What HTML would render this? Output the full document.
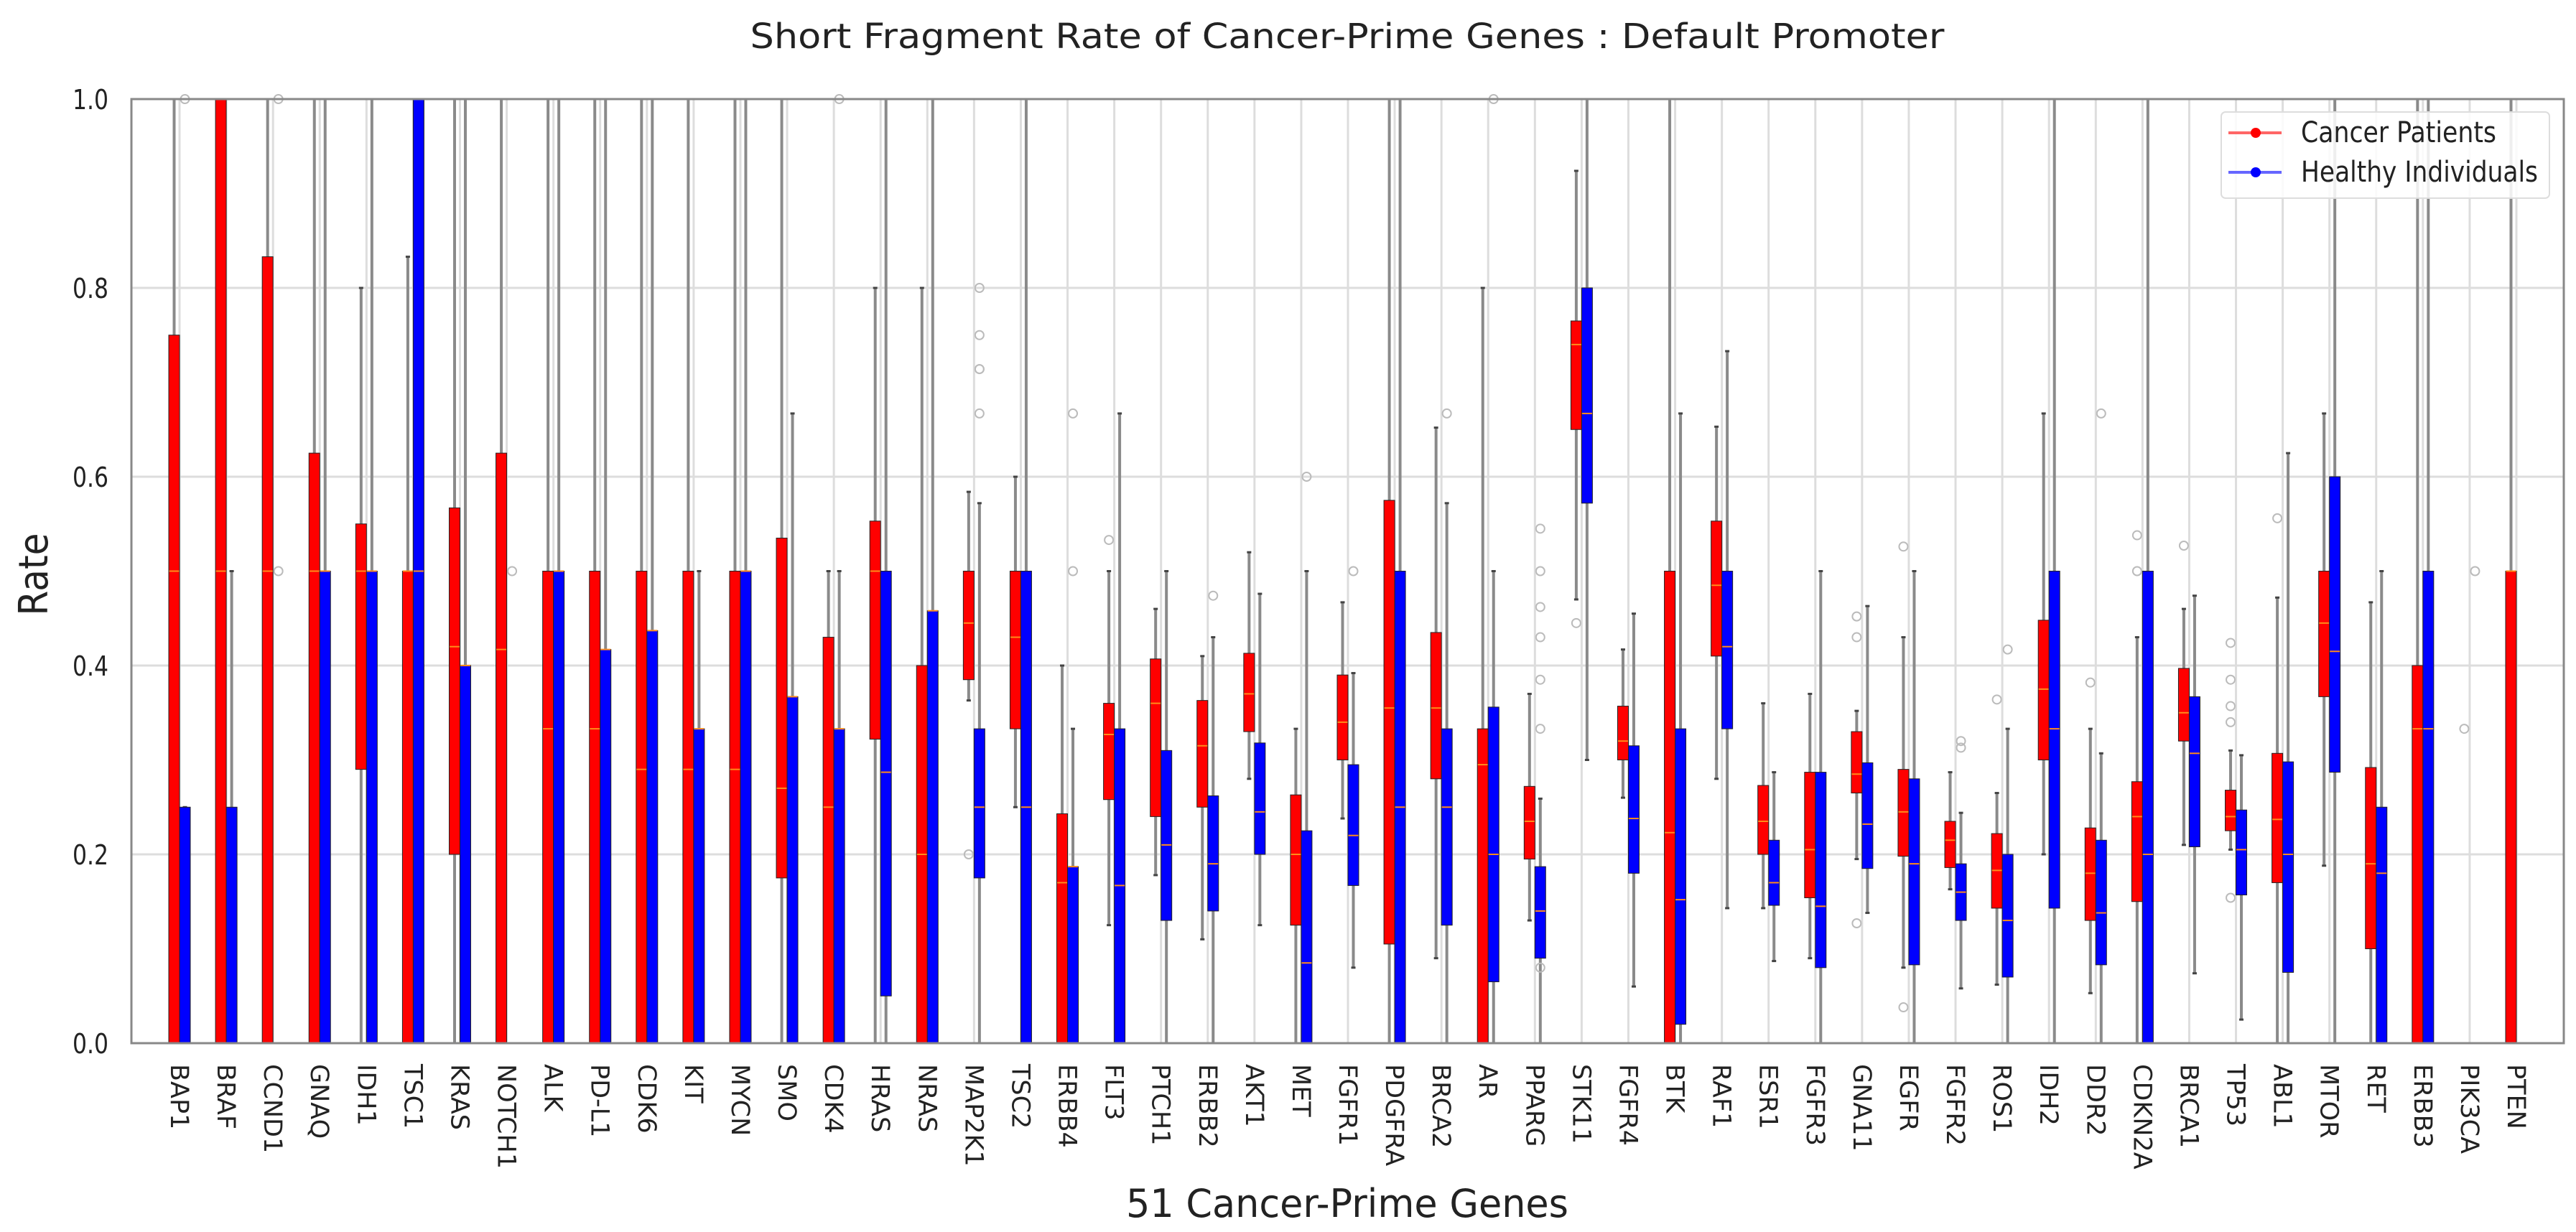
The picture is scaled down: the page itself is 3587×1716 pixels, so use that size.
<!DOCTYPE html>
<html><head><meta charset="utf-8">
<style>
html,body{margin:0;padding:0;background:#fff;}
svg{display:block;}
text{font-family:"DejaVu Sans","Liberation Sans",sans-serif;fill:#222;}
</style></head>
<body>
<svg id="chart" width="3587" height="1716" viewBox="0 0 3587 1716" xmlns="http://www.w3.org/2000/svg">
<rect x="0" y="0" width="3587" height="1716" fill="#fff"/>
<g id="grid"></g>
<g id="marks"></g>
<rect x="183" y="138" width="3387" height="1315" fill="none" stroke="#888" stroke-width="3"/>
<g id="yticks"></g>
<g id="xticks"></g>
<text x="1876" y="67" font-size="48" text-anchor="middle" textLength="1663" lengthAdjust="spacingAndGlyphs">Short Fragment Rate of Cancer-Prime Genes : Default Promoter</text>
<text transform="translate(66,800) rotate(-90)" font-size="56" text-anchor="middle" textLength="115" lengthAdjust="spacingAndGlyphs">Rate</text>
<text x="1876" y="1695" font-size="54" text-anchor="middle" textLength="616" lengthAdjust="spacingAndGlyphs">51 Cancer-Prime Genes</text>
<g>
<rect x="3093" y="156" width="457" height="120" rx="6" fill="#fff" fill-opacity="0.85" stroke="#ddd" stroke-width="2"/>
<line x1="3103" y1="185" x2="3177" y2="185" stroke="#f66" stroke-width="4"/>
<circle cx="3141" cy="185" r="7" fill="red"/>
<text x="3204" y="198" font-size="40" textLength="272" lengthAdjust="spacingAndGlyphs">Cancer Patients</text>
<line x1="3103" y1="240" x2="3177" y2="240" stroke="#66f" stroke-width="4"/>
<circle cx="3141" cy="240" r="7" fill="blue"/>
<text x="3204" y="253" font-size="40" textLength="330" lengthAdjust="spacingAndGlyphs">Healthy Individuals</text>
</g>
</svg>
<script>
const genes = ["BAP1","BRAF","CCND1","GNAQ","IDH1","TSC1","KRAS","NOTCH1","ALK","PD-L1","CDK6","KIT","MYCN","SMO","CDK4","HRAS","NRAS","MAP2K1","TSC2","ERBB4","FLT3","PTCH1","ERBB2","AKT1","MET","FGFR1","PDGFRA","BRCA2","AR","PPARG","STK11","FGFR4","BTK","RAF1","ESR1","FGFR3","GNA11","EGFR","FGFR2","ROS1","IDH2","DDR2","CDKN2A","BRCA1","TP53","ABL1","MTOR","RET","ERBB3","PIK3CA","PTEN"];
const yTicks = [0.0,0.2,0.4,0.6,0.8,1.0];
const yTickLabels = ["0.0","0.2","0.4","0.6","0.8","1.0"];
// [whiskerLow, q1, median, q3, whiskerHigh]
const cancerStats = [
[0,0,0.5,0.75,1],[0,0,0.5,1,1],[0,0,0.5,0.833,1],[0,0,0.5,0.625,1],[0,0.29,0.5,0.55,0.8],
[0,0,0.5,0.5,0.833],[0,0.2,0.42,0.567,1],[0,0,0.417,0.625,1],[0,0,0.333,0.5,1],[0,0,0.333,0.5,1],
[0,0,0.29,0.5,1],[0,0,0.29,0.5,1],[0,0,0.29,0.5,1],[0,0.175,0.27,0.535,1],[0,0,0.25,0.43,0.5],
[0,0.322,0.5,0.553,0.8],[0,0,0.2,0.4,0.8],[0.363,0.385,0.445,0.5,0.584],[0.25,0.333,0.43,0.5,0.6],[0,0,0.17,0.243,0.4],
[0.125,0.258,0.327,0.36,0.5],[0.178,0.24,0.36,0.407,0.46],[0.11,0.25,0.315,0.363,0.41],[0.28,0.33,0.37,0.413,0.52],[0,0.125,0.2,0.263,0.333],
[0.238,0.3,0.34,0.39,0.467],[0,0.105,0.355,0.575,1],[0.09,0.28,0.355,0.435,0.652],[0,0,0.295,0.333,0.8],[0.13,0.195,0.235,0.272,0.37],
[0.47,0.65,0.74,0.765,0.924],[0.26,0.3,0.32,0.357,0.417],[0,0,0.223,0.5,1],[0.28,0.41,0.485,0.553,0.653],[0.143,0.2,0.235,0.273,0.36],
[0.09,0.154,0.205,0.287,0.37],[0.195,0.265,0.285,0.33,0.352],[0.08,0.198,0.245,0.29,0.43],[0.163,0.186,0.215,0.235,0.287],[0.062,0.143,0.183,0.222,0.265],
[0.2,0.3,0.375,0.448,0.667],[0.053,0.13,0.18,0.228,0.333],[0,0.15,0.24,0.277,0.43],[0.21,0.32,0.35,0.397,0.46],[0.205,0.225,0.24,0.268,0.31],
[0,0.17,0.237,0.307,0.472],[0.188,0.367,0.445,0.5,0.667],[0,0.1,0.19,0.292,0.467],[0,0,0.333,0.4,1],[0,0,0,0,0],
[0,0,0.5,0.5,1]];
const healthyStats = [
[0,0,0,0.25,0.25],[0,0,0,0.25,0.5],[0,0,0,0,0],[0,0,0.5,0.5,1],[0,0,0.5,0.5,1],
[0,0,0.5,1,1],[0,0,0.4,0.4,1],[0,0,0,0,0],[0,0,0.5,0.5,1],[0,0,0.417,0.417,1],
[0,0,0.437,0.437,1],[0,0,0.333,0.333,0.5],[0,0,0.5,0.5,1],[0,0,0.367,0.367,0.667],[0,0,0.333,0.333,0.5],
[0,0.05,0.287,0.5,1],[0,0,0.458,0.458,1],[0,0.175,0.25,0.333,0.572],[0,0,0.25,0.5,1],[0,0,0.187,0.187,0.333],
[0,0,0.167,0.333,0.667],[0,0.13,0.21,0.31,0.5],[0,0.14,0.19,0.262,0.43],[0.125,0.2,0.245,0.318,0.476],[0,0,0.085,0.225,0.5],
[0.08,0.167,0.22,0.295,0.392],[0,0,0.25,0.5,1],[0,0.125,0.25,0.333,0.572],[0,0.065,0.2,0.356,0.5],[0,0.09,0.14,0.187,0.259],
[0.3,0.572,0.667,0.8,1],[0.06,0.18,0.238,0.315,0.455],[0,0.02,0.152,0.333,0.667],[0.143,0.333,0.42,0.5,0.733],[0.087,0.146,0.17,0.215,0.287],
[0,0.08,0.145,0.287,0.5],[0.138,0.185,0.232,0.297,0.463],[0,0.083,0.19,0.28,0.5],[0.058,0.13,0.16,0.19,0.244],[0,0.07,0.13,0.2,0.333],
[0,0.143,0.333,0.5,1],[0,0.083,0.138,0.215,0.307],[0,0,0.2,0.5,1],[0.074,0.208,0.307,0.367,0.474],[0.025,0.157,0.205,0.247,0.305],
[0,0.075,0.2,0.298,0.625],[0,0.287,0.415,0.6,1],[0,0,0.18,0.25,0.5],[0,0,0.333,0.5,1],[0,0,0,0,0],
[0,0,0,0,0]];
// outliers: gene index, series (0 cancer, 1 healthy), value
const outlierGene = [0,2,2,7,14,17,17,17,17,17,17,19,19,20,22,24,25,27,28,29,29,29,29,29,29,29,30,36,36,36,37,37,38,38,39,39,41,41,42,42,43,44,44,44,44,44,45,49,49];
const outlierSeries = [1,1,1,1,1,1,1,1,1,1,0,1,1,0,1,1,1,1,1,1,1,1,1,1,1,1,0,0,0,0,0,0,1,1,0,1,0,1,0,0,0,0,0,0,0,0,0,1,0];
const outlierValue = [1,0.5,1,0.5,1,0.8,0.75,0.714,0.714,0.667,0.2,0.667,0.5,0.533,0.474,0.6,0.5,0.667,1,0.545,0.5,0.462,0.43,0.385,0.333,0.08,0.445,0.452,0.43,0.127,0.526,0.038,0.313,0.32,0.364,0.417,0.382,0.667,0.5,0.538,0.527,0.385,0.357,0.34,0.154,0.424,0.556,0.5,0.333];

const NS = "http://www.w3.org/2000/svg";
const X0 = 250, DX = 65.08, Y0 = 1453, Y1 = 138;
function xScale(i){ return X0 + i*DX; }
function yScale(v){ return Y0 - v*(Y0-Y1); }
function mk(tag, attrs, parent){
  const e = document.createElementNS(NS, tag);
  for (const k in attrs) e.setAttribute(k, attrs[k]);
  parent.appendChild(e); return e;
}
const grid = document.getElementById('grid');
const marks = document.getElementById('marks');
const yt = document.getElementById('yticks');
const xt = document.getElementById('xticks');

yTicks.forEach((v,k)=>{
  const g = mk('line',{x1:183,x2:3570,y1:yScale(v),y2:yScale(v),stroke:'#ddd','stroke-width':3},grid);
  
  
  const t = mk('text',{x:151,y:yScale(v)+14,'font-size':38,'text-anchor':'end',textLength:50,lengthAdjust:'spacingAndGlyphs'},yt);
  t.textContent = yTickLabels[k];
  
  
});
genes.forEach((g,i)=>{
  const x = xScale(i);
  const gl = mk('line',{x1:x,x2:x,y1:Y1,y2:Y0,stroke:'#ddd','stroke-width':3},grid);
  
  
  const t = mk('text',{transform:`translate(${x-12},1482) rotate(90)`,'font-size':35},xt);
  t.textContent = g;
  
  
});
function drawBox(i, s, st){
  const cx = xScale(i) + (s===0 ? -7.5 : 7.5);
  const color = s===0 ? '#ff0000' : '#0000ff';
  const [wl,q1,md,q3,wh] = st;
  const w1 = mk('line',{x1:cx,x2:cx,y1:yScale(q3),y2:yScale(wh),stroke:'#8a8a8a','stroke-width':4},marks);
  
  
  const w2 = mk('line',{x1:cx,x2:cx,y1:yScale(q1),y2:yScale(wl),stroke:'#8a8a8a','stroke-width':4},marks);
  
  
  [wl,wh].forEach(v=>{
    const c = mk('line',{x1:cx-3,x2:cx+3,y1:yScale(v),y2:yScale(v),stroke:'#444','stroke-width':3},marks);
    
    
  });
  const h = Math.max(yScale(q1)-yScale(q3), 0);
  const b = mk('rect',{x:cx-7.5,y:yScale(q3),width:15,height:h,fill:color,stroke:'#222','stroke-width':1},marks);
  
  
  const m = mk('line',{x1:cx-7,x2:cx+7,y1:yScale(md),y2:yScale(md),stroke:'#ff8c1a','stroke-width':2},marks);
  
  
}
genes.forEach((g,i)=>{ drawBox(i,0,cancerStats[i]); drawBox(i,1,healthyStats[i]); });
outlierGene.forEach((gi,k)=>{
  const cx = xScale(gi) + (outlierSeries[k]===0 ? -7.5 : 7.5);
  const c = mk('circle',{cx:cx,cy:yScale(outlierValue[k]),r:6,fill:'none',stroke:'#bbb','stroke-width':2},marks);
  
  
});
</script>
</body></html>
